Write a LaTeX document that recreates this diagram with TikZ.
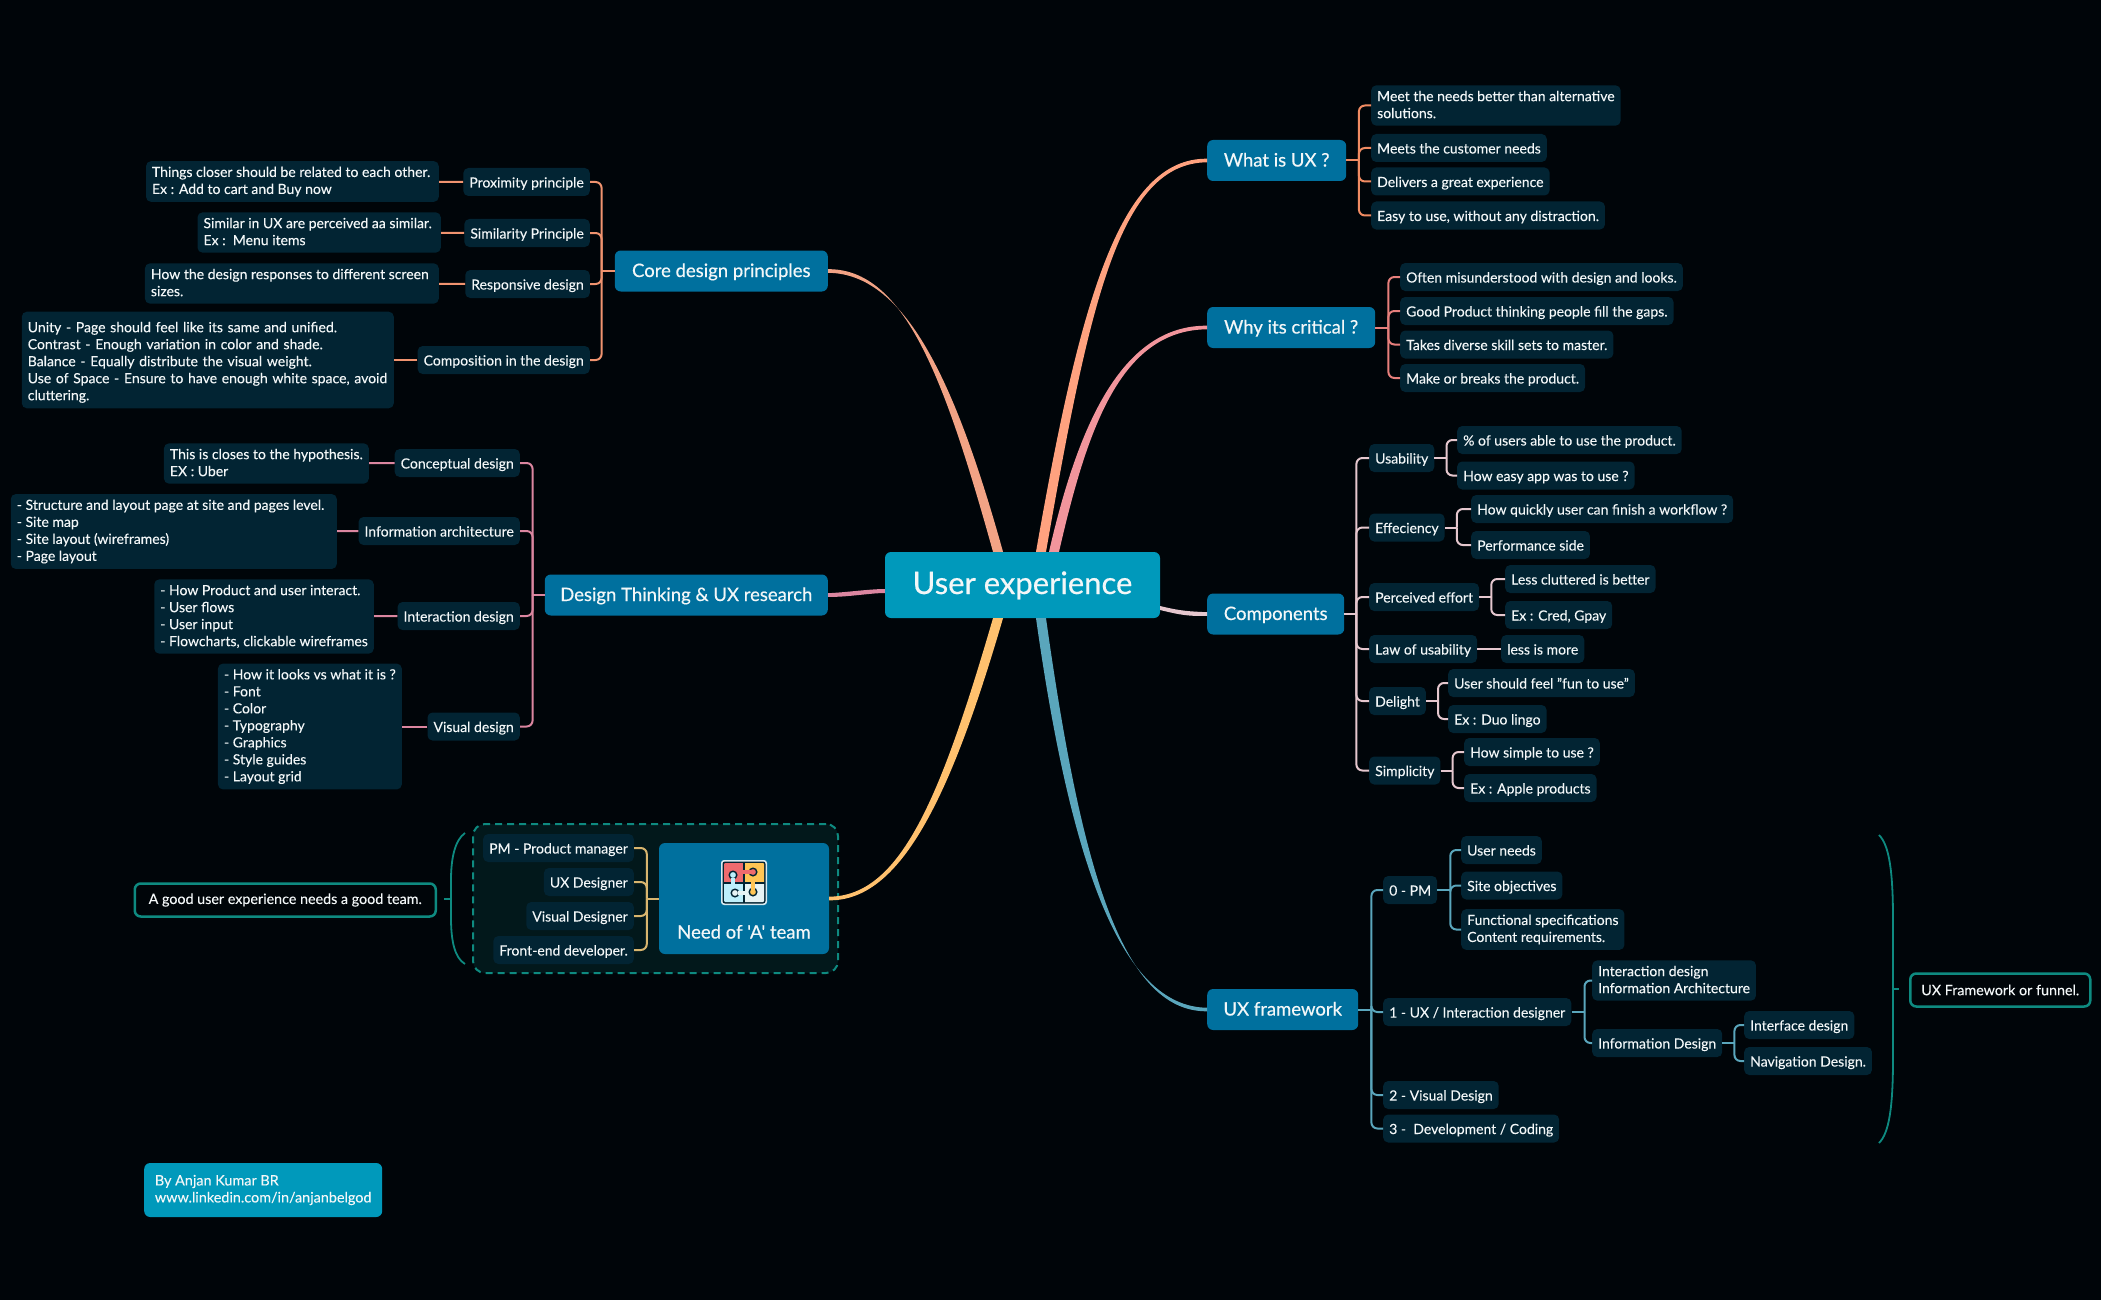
\documentclass[tikz,border=0pt]{standalone}
\usepackage{fontspec}
\usetikzlibrary{calc}
\setmainfont[FakeBold=0.1]{Lato}
\newfontfamily\headfont[FakeBold=0.45]{Lato}
\definecolor{pagebg}{HTML}{000509}
\definecolor{rootblue}{HTML}{0099BB}
\definecolor{mainblue}{HTML}{00709E}
\definecolor{subfill}{HTML}{022433}
\definecolor{teal}{HTML}{0E8A80}
\definecolor{teamfill}{HTML}{02181B}
\definecolor{inktext}{HTML}{F3F7F8}
\definecolor{whatline}{HTML}{F08B62}
\definecolor{whatcurve}{HTML}{FFA27F}
\definecolor{whyline}{HTML}{E77F7C}
\definecolor{whycurve}{HTML}{F2959C}
\definecolor{coreline}{HTML}{F0936F}
\definecolor{designline}{HTML}{DB86A0}
\definecolor{compline}{HTML}{E5C7CE}
\definecolor{frameline}{HTML}{5AA6BC}
\definecolor{teamline}{HTML}{D9B56E}
\definecolor{teamcurve}{HTML}{FFC16E}
\definecolor{pzlred}{HTML}{EE6B6E}
\definecolor{pzlgold}{HTML}{FFC554}
\definecolor{pzlsky}{HTML}{BDEFFB}
\definecolor{pzlmist}{HTML}{E6F3F4}
\tikzset{
  rootnode/.style={fill=rootblue,text=inktext,rounded corners=6,inner sep=0,text height=22,text depth=4,font=\headfont\fontsize{31}{36}\selectfont},
  topic/.style={fill=mainblue,text=inktext,rounded corners=6,inner xsep=8,inner ysep=0,minimum height=41,text height=16,text depth=4,font=\headfont\fontsize{18.5}{22}\selectfont},
  leafbase/.style={fill=subfill,text=inktext,rounded corners=5,inner xsep=6,inner ysep=5.5,align=left,font=\fontsize{14}{17}\selectfont},
  leaf/.style={leafbase,execute at begin node=\rule[-3pt]{0pt}{17pt},execute at end node=\rule[-3pt]{0pt}{17pt}},
  leafblock/.style={leafbase,execute at begin node=\rule{0pt}{15pt},execute at end node=\rule[-2pt]{0pt}{2pt}},
  link/.style={line width=2},
  note/.style={draw=teal,line width=2.5,text=inktext,fill=pagebg,rounded corners=6,inner xsep=8,inner ysep=0,minimum height=33,font=\fontsize{14.3}{17}\selectfont},
  teamgroup/.style={draw=teal,fill=teamfill,line width=2,dash pattern=on 7 off 5,rounded corners=12},
  pzl/.style={draw=subfill,line width=1.4},
}
% trunk from a parent to its bus, then one rounded branch per child
\newcommand{\fork}[4]{%
  \coordinate (bus) at ([xshift=#3]#2);
  \draw[link,#1] (#2) -- (bus);
  \foreach \kid in {#4} \draw[link,#1,rounded corners=6] (bus) |- (\kid);
}
% tapered branch out of the root
\newcommand{\taperlink}[6]{%
  \fill[#1] ($(#2)-(#6)$) .. controls ($(#3)-(#6)$) and ($(#4)+(0,-2.5)$) .. ($(#5)+(0,-1.8)$)
    -- ($(#5)+(0,1.8)$) .. controls ($(#4)+(0,2.5)$) and ($(#3)+(#6)$) .. ($(#2)+(#6)$) -- cycle;
}
\begin{document}
\begin{tikzpicture}[x=1pt,y=-1pt]
\useasboundingbox (0,0) rectangle (2101,1300);
\fill[pagebg] (0,0) rectangle (2101,1300);

% centre
\node[rootnode,minimum width=275,minimum height=66] (root) at (1022.5,585) {User experience};
\coordinate (startCore) at ([xshift=-24.5]root.north);
\coordinate (startWhat) at ([xshift=18.5]root.north);
\coordinate (startWhy) at ([xshift=31.5]root.north);
\coordinate (startTeam) at ([xshift=-24.5]root.south);
\coordinate (startFrame) at ([xshift=18.5]root.south);
\coordinate (startDesign) at ([yshift=-6]root.west);
\coordinate (startComp) at ([yshift=-23]root.east);

% main topics
\node[topic,anchor=west,minimum width=139] (what) at (1207,160.5) {What is UX ?};
\node[topic,anchor=west,minimum width=168] (why) at (1207,327.5) {Why its critical ?};
\node[topic,anchor=west,minimum width=137] (comp) at (1207,614) {Components};
\node[topic,anchor=west,minimum width=151] (frame) at (1207,1009.5) {UX framework};
\node[topic,anchor=east,minimum width=213] (core) at (828,271) {Core design principles};
\node[topic,anchor=east,minimum width=283] (design) at (828,595) {Design Thinking \& UX research};

% what is ux
\node[leafblock,anchor=west] (meet) at (1371,105.5) {Meet the needs better than alternative\\solutions.};
\node[leaf,anchor=west] (meets) at (1371,148) {Meets the customer needs};
\node[leaf,anchor=west] (delivers) at (1371,181.5) {Delivers a great experience};
\node[leaf,anchor=west] (easy) at (1371,215.5) {Easy to use, without any distraction.};
\fork{whatline}{what.east}{12.5}{meet.west,meets.west,delivers.west,easy.west}

% why its critical
\node[leaf,anchor=west] (often) at (1400,277) {Often misunderstood with design and looks.};
\node[leaf,anchor=west] (good) at (1400,311) {Good Product thinking people fill the gaps.};
\node[leaf,anchor=west] (takes) at (1400,344.5) {Takes diverse skill sets to master.};
\node[leaf,anchor=west] (make) at (1400,378) {Make or breaks the product.};
\fork{whyline}{why.east}{13}{often.west,good.west,takes.west,make.west}

% components
\node[leaf,anchor=west] (usab) at (1369,458) {Usability};
\node[leaf,anchor=west] (effe) at (1369,527.5) {Effeciency};
\node[leaf,anchor=west] (perc) at (1369,597) {Perceived effort};
\node[leaf,anchor=west] (lawu) at (1369,649) {Law of usability};
\node[leaf,anchor=west] (deli) at (1369,701) {Delight};
\node[leaf,anchor=west] (simp) at (1369,770.5) {Simplicity};
\fork{compline}{comp.east}{12}{usab.west,effe.west,perc.west,lawu.west,deli.west,simp.west}
\node[leaf,anchor=west] (pctu) at (1457,440) {\% of users able to use the product.};
\node[leaf,anchor=west] (easya) at (1457,475.5) {How easy app was to use ?};
\fork{compline}{usab.east}{12}{pctu.west,easya.west}
\node[leaf,anchor=west] (quick) at (1471,509) {How quickly user can finish a workflow ?};
\node[leaf,anchor=west] (perf) at (1471,545) {Performance side};
\fork{compline}{effe.east}{12}{quick.west,perf.west}
\node[leaf,anchor=west] (less) at (1505,579) {Less cluttered is better};
\node[leaf,anchor=west] (cred) at (1505,615) {Ex : Cred, Gpay};
\fork{compline}{perc.east}{12}{less.west,cred.west}
\node[leaf,anchor=west] (more) at (1501,649) {less is more};
\draw[link,compline] (lawu) -- (more);
\node[leaf,anchor=west] (feel) at (1448,683) {User should feel "fun to use"};
\node[leaf,anchor=west] (duo) at (1448,719) {Ex : Duo lingo};
\fork{compline}{deli.east}{12}{feel.west,duo.west}
\node[leaf,anchor=west] (howsim) at (1464,752) {How simple to use ?};
\node[leaf,anchor=west] (apple) at (1464,788) {Ex : Apple products};
\fork{compline}{simp.east}{12}{howsim.west,apple.west}

% ux framework
\node[leaf,anchor=west] (pm) at (1383,890) {0 - PM};
\node[leaf,anchor=west] (uxd) at (1383,1012) {1 - UX / Interaction designer};
\node[leaf,anchor=west] (vis) at (1383,1095) {2 - Visual Design};
\node[leaf,anchor=west] (dev) at (1383,1128.5) {3 -\ \ Development / Coding};
\fork{frameline}{frame.east}{13}{pm.west,uxd.west,vis.west,dev.west}
\node[leaf,anchor=west] (needs) at (1461,850) {User needs};
\node[leaf,anchor=west] (site) at (1461,885.5) {Site objectives};
\node[leafblock,anchor=west] (func) at (1461,929.5) {Functional specifications\\Content requirements.};
\fork{frameline}{pm.east}{13}{needs.west,site.west,func.west}
\node[leafblock,anchor=west] (inter) at (1592,980.5) {Interaction design\\Information Architecture};
\node[leaf,anchor=west] (infod) at (1592,1043) {Information Design};
\fork{frameline}{uxd.east}{13}{inter.west,infod.west}
\node[leaf,anchor=west] (iface) at (1744,1025) {Interface design};
\node[leaf,anchor=west] (navi) at (1744,1061) {Navigation Design.};
\fork{frameline}{infod.east}{12}{iface.west,navi.west}
\node[note,anchor=west,minimum width=180] (funnel) at (1909,990) {UX Framework or funnel.};
\coordinate (frameTick) at (1899,989);
\draw[link,teal,line width=1.8] (1879,835) .. controls (1889,845) and (1893,870) .. (1893,920) -- (1893,1058) .. controls (1893,1108) and (1889,1133) .. (1879,1143);
\draw[link,teal] (1893,989) -- (frameTick);

% core design principles
\node[leaf,anchor=east] (prox) at (590,182) {Proximity principle};
\node[leaf,anchor=east] (simi) at (590,233) {Similarity Principle};
\node[leaf,anchor=east] (resp) at (590,284) {Responsive design};
\node[leaf,anchor=east] (compo) at (590,360) {Composition in the design};
\fork{coreline}{core.west}{-13}{prox.east,simi.east,resp.east,compo.east}
\node[leafblock,anchor=east] (things) at (439,181.5) {Things closer should be related to each other.\kern2.5pt\\Ex : Add to cart and Buy now};
\node[leafblock,anchor=east] (sim) at (441,232.5) {Similar in UX are perceived aa similar.\kern3pt\\Ex :\ \ Menu items};
\node[leafblock,anchor=east] (resize) at (439,283.5) {How the design responses to different screen\kern4pt\\sizes.};
\node[leafblock,anchor=east,text width=360] (unity) at (394,360) {Unity - Page should feel like its same and unified.\\Contrast - Enough variation in color and shade.\\Balance - Equally distribute the visual weight.\\Use of Space - Ensure to have enough white space, avoid\\cluttering.};
\draw[link,coreline] (prox) -- (things);
\draw[link,coreline] (simi) -- (sim);
\draw[link,coreline] (resp) -- (resize);
\draw[link,coreline] (compo) -- (unity);

% design thinking
\node[leaf,anchor=east] (conc) at (520,463) {Conceptual design};
\node[leaf,anchor=east] (arch) at (520,531) {Information architecture};
\node[leaf,anchor=east] (intd) at (520,616) {Interaction design};
\node[leaf,anchor=east] (visd) at (520,726.5) {Visual design};
\fork{designline}{design.west}{-12}{conc.east,arch.east,intd.east,visd.east}
\node[leafblock,anchor=east] (hypo) at (369,463.5) {This is closes to the hypothesis.\\EX : Uber};
\node[leafblock,anchor=east] (struct) at (337,531.5) {- Structure and layout page at site and pages level.\kern6.5pt\\- Site map\\- Site layout (wireframes)\\- Page layout};
\node[leafblock,anchor=east] (howp) at (374,616.5) {- How Product and user interact.\\- User flows\\- User input\\- Flowcharts, clickable wireframes};
\node[leafblock,anchor=east] (looks) at (402,726.5) {- How it looks vs what it is ?\\- Font\\- Color\\- Typography\\- Graphics\\- Style guides\\- Layout grid};
\draw[link,designline] (conc) -- (hypo);
\draw[link,designline] (arch) -- (struct);
\draw[link,designline] (intd) -- (howp);
\draw[link,designline] (visd) -- (looks);

% team
\node[teamgroup,minimum width=365,minimum height=149] (group) at (655.5,898.5) {};
\node[topic,minimum width=170,minimum height=111,inner xsep=0,text height=84] (team) at (744,898.5) {Need of 'A' team};
\node[leaf,anchor=east] (ppm) at (634,848) {PM - Product manager};
\node[leaf,anchor=east] (pux) at (634,882) {UX Designer};
\node[leaf,anchor=east] (pvis) at (634,916) {Visual Designer};
\node[leaf,anchor=east] (pfe) at (634,950) {Front-end developer.};
\fork{teamline}{team.west}{-12}{ppm.east,pux.east,pvis.east,pfe.east}
\node[note,anchor=east,minimum width=301] (goodteam) at (437,900) {A good user experience needs a good team.};
\coordinate (teamTick) at (444,899);
\draw[link,teal,line width=1.8] (465,833) .. controls (455,840) and (451,858) .. (451,880) -- (451,918) .. controls (451,942) and (455,958) .. (465,964);
\draw[link,teal] (451,899) -- (teamTick);

% puzzle icon
\fill[white!85!mainblue,rounded corners=3] (721,860) rectangle (767,905);
\fill[subfill,rounded corners=2.5] (722.5,861.5) rectangle (765.5,903.5);
\fill[pzlred,rounded corners=1] (724,863) rectangle (744,883);
\fill[pzlgold,rounded corners=1] (744,863) rectangle (764,883);
\fill[pzlsky,rounded corners=1] (724,883) rectangle (744,902);
\fill[pzlmist,rounded corners=1] (744,883) rectangle (764,902);
\draw[pzl] (744,863) -- (744,902) (724,883) -- (764,883);
\draw[pzl,fill=pzlred] (753,872) circle (3.8);
\fill[pzlred] (743,870.2) rectangle (750.5,873.8);
\draw[pzl,fill=pzlsky] (733,875) circle (3.8);
\fill[pzlsky] (731.2,877.5) rectangle (734.8,884);
\draw[pzl,fill=pzlgold] (753,892) circle (3.8);
\fill[pzlgold] (751.2,882) rectangle (754.8,889.5);
\draw[pzl,fill=pzlmist] (735,893) circle (3.8);
\fill[pzlmist] (737.5,891.2) rectangle (745,894.8);

% credit
\node[fill=rootblue,text=inktext,rounded corners=6,anchor=west,inner xsep=9,inner ysep=10,minimum width=238,minimum height=54,align=left,font=\fontsize{14.4}{17}\selectfont] (credit) at (144,1190) {By Anjan Kumar BR\\www.linkedin.com/in/anjanbelgod};

% main branches
\taperlink{whatcurve}{startWhat}{1085,300}{1120,160.5}{what.west}{5,0}
\taperlink{whycurve}{startWhy}{1082,430}{1120,327.5}{why.west}{5,0}
\taperlink{coreline!85!white}{startCore}{950,380}{905,271}{core.east}{5,0}
\taperlink{teamcurve}{startTeam}{945,800}{900,898.5}{team.east}{5,0}
\taperlink{frameline}{startFrame}{1075,860}{1120,1009.5}{frame.west}{5,0}
\taperlink{designline}{startDesign}{870,591}{845,595}{design.east}{0,2}
\taperlink{compline}{startComp}{1180,613}{1190,614}{comp.west}{0,2}
\end{tikzpicture}
\end{document}
